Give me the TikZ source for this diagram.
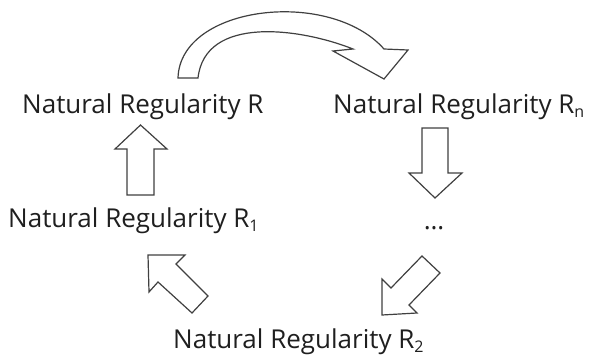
\documentclass[tikz,border=0pt]{standalone}
\usepackage{fontspec}
\setmainfont{Open Sans}
\begin{document}
\begin{tikzpicture}[x=1pt,y=-1pt,
  lbl/.style={inner sep=0pt, anchor=base west, text=black!88, font=\fontsize{26}{30}\selectfont},
  blockarrow/.style={draw=black!75, line width=1.2pt, fill=white, line join=miter}]
\useasboundingbox (0,0) rectangle (592,356);
\newcommand{\sbs}[1]{\raisebox{-4.5pt}{\fontsize{16}{18}\selectfont #1}}
% labels
\node[lbl] (r)  at (22,113)  {Natural Regularity R};
\node[lbl] (rn) at (333,113) {Natural Regularity R\sbs{n}};
\node[lbl] (r1) at (8,227)   {Natural Regularity R\sbs{1}};
\node[lbl] (r2) at (173,348) {Natural Regularity R\sbs{2}};
\node[lbl, anchor=base] (dots) at (434,229) {…};
% curved arrow R -> Rn
\draw[blockarrow] (178,78) .. controls (180,5) and (330,-12) .. (384,49)
  -- (408,50) -- (384,79) -- (333,51) -- (353,49)
  .. controls (300,28) and (205,15) .. (198,78) -- cycle;
% up arrow R1 -> R
\draw[blockarrow] (127,195) -- (127,149) -- (115,149) -- (140.5,125) -- (167,149) -- (154,149) -- (154,195) -- cycle;
% down arrow Rn -> dots
\draw[blockarrow] (422,128) -- (422,173) -- (409,173) -- (435,198) -- (462,173) -- (448,173) -- (448,128) -- cycle;
% diagonal arrow dots -> R2
\draw[blockarrow] (422,256) -- (440,273) -- (409,305) -- (417,313) -- (382,315) -- (382,279) -- (391,288) -- cycle;
% diagonal arrow R2 -> R1
\draw[blockarrow] (208,296) -- (192,313) -- (158,282) -- (149,292) -- (148,255) -- (185,255) -- (176,264) -- cycle;
\end{tikzpicture}
\end{document}
